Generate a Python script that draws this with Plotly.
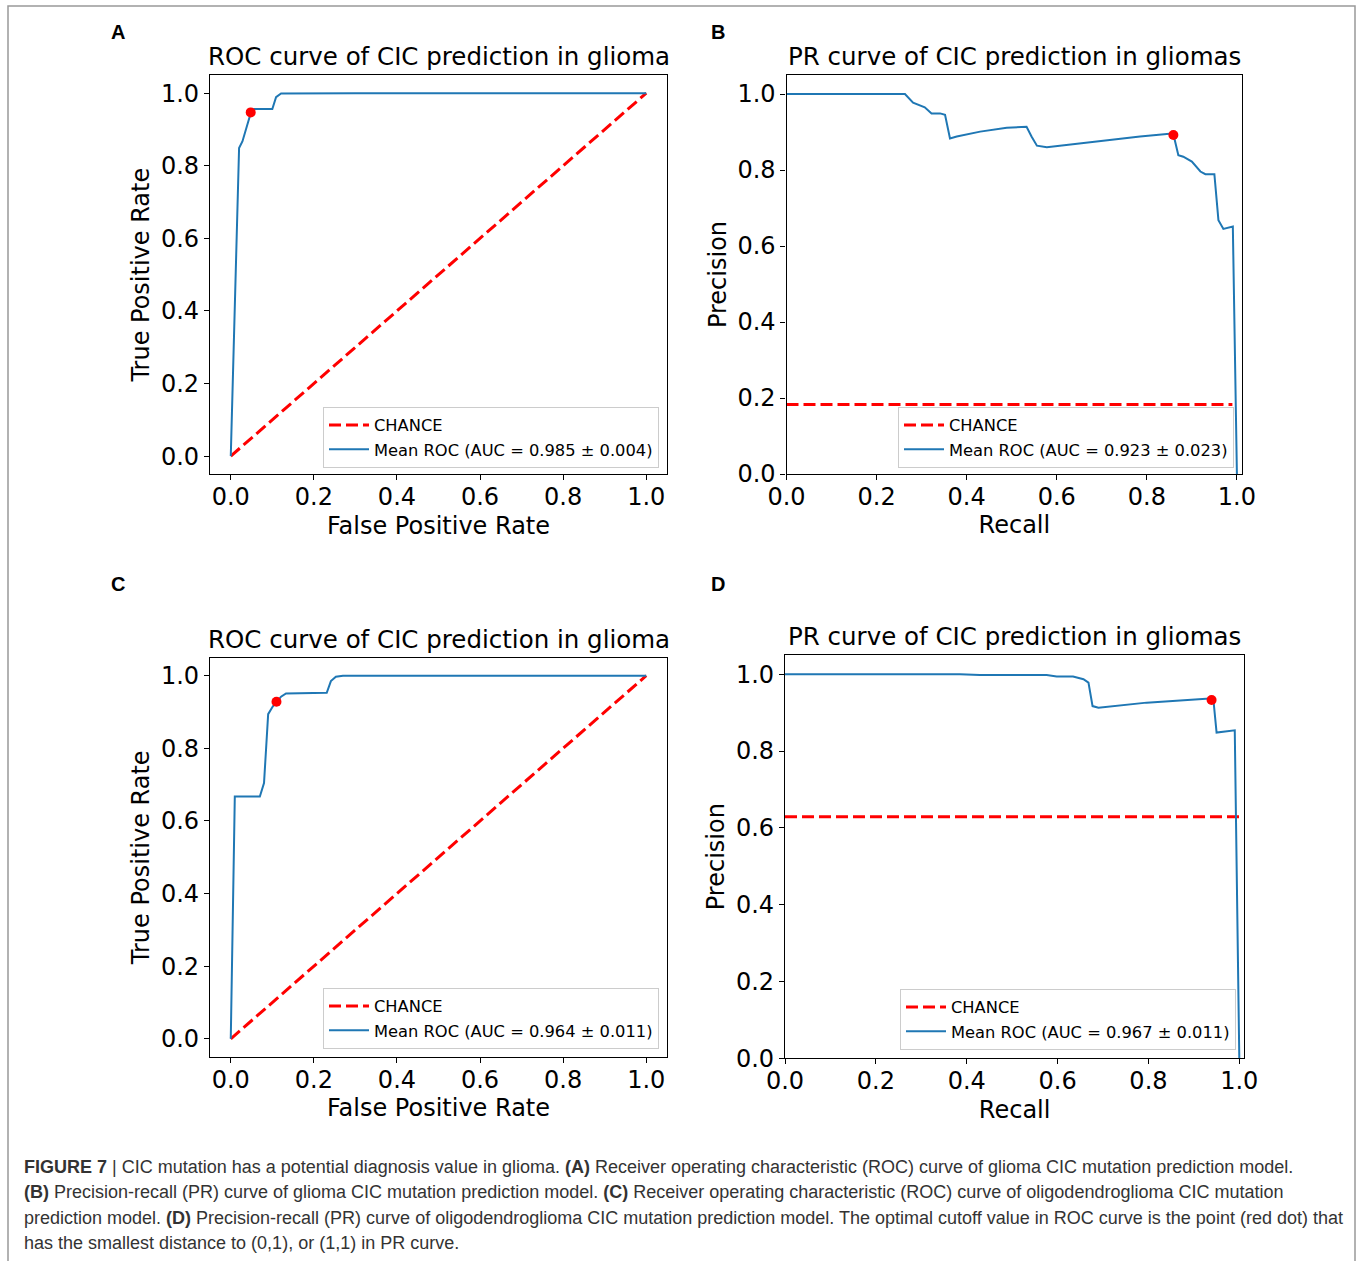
import plotly.graph_objects as go

# ---------------- data ----------------
# Panel A: ROC, glioma
roc_a_fpr = [0.0, 0.020, 0.028, 0.048, 0.056, 0.100, 0.109, 0.121, 0.30, 0.60, 1.0]
roc_a_tpr = [0.0, 0.849, 0.867, 0.945, 0.956, 0.956, 0.989, 0.999, 1.0, 1.0, 1.0]
roc_a_opt = (0.048, 0.947)
roc_a_label = "Mean ROC (AUC = 0.985 ± 0.004)"

# Panel B: PR, glioma
pr_b_recall = [0.0, 0.263, 0.281, 0.293, 0.307, 0.322, 0.341, 0.352, 0.363, 0.378, 0.430,
               0.489, 0.533, 0.544, 0.556, 0.578, 0.652, 0.741, 0.785, 0.856, 0.859,
               0.870, 0.881, 0.900, 0.919, 0.930, 0.950, 0.959, 0.970, 0.991, 1.0]
pr_b_precision = [1.0, 1.0, 0.977, 0.971, 0.965, 0.949, 0.949, 0.945, 0.883, 0.888, 0.901,
                  0.911, 0.914, 0.888, 0.864, 0.860, 0.870, 0.883, 0.888, 0.896, 0.894,
                  0.839, 0.835, 0.822, 0.796, 0.789, 0.789, 0.668, 0.645, 0.651, 0.0]
pr_b_opt = (0.859, 0.892)
pr_b_chance = 0.183
pr_b_label = "Mean ROC (AUC = 0.923 ± 0.023)"

# Panel C: ROC, oligodendroglioma
roc_c_fpr = [0.0, 0.0097, 0.070, 0.080, 0.090, 0.101, 0.121, 0.133, 0.231, 0.241, 0.253, 0.27, 1.0]
roc_c_tpr = [0.0, 0.667, 0.667, 0.704, 0.894, 0.915, 0.942, 0.951, 0.953, 0.985, 0.997, 1.0, 1.0]
roc_c_opt = (0.110, 0.928)
roc_c_label = "Mean ROC (AUC = 0.964 ± 0.011)"

# Panel D: PR, oligodendroglioma
pr_d_recall = [0.0, 0.385, 0.429, 0.576, 0.598, 0.634, 0.657, 0.668, 0.677, 0.690, 0.796,
               0.935, 0.943, 0.950, 0.990, 1.0]
pr_d_precision = [1.0, 1.0, 0.998, 0.998, 0.994, 0.994, 0.987, 0.978, 0.917, 0.913, 0.926,
                  0.937, 0.933, 0.848, 0.854, 0.0]
pr_d_opt = (0.939, 0.933)
pr_d_chance = 0.629
pr_d_label = "Mean ROC (AUC = 0.967 ± 0.011)"

roc_title = "ROC curve of CIC prediction in glioma"
pr_title = "PR curve of CIC prediction in gliomas"
tick_vals = [0.0, 0.2, 0.4, 0.6, 0.8, 1.0]

caption_lines = [
    "<b>FIGURE 7</b> | CIC mutation has a potential diagnosis value in glioma. <b>(A)</b> Receiver operating characteristic (ROC) curve of glioma CIC mutation prediction model.",
    "<b>(B)</b> Precision-recall (PR) curve of glioma CIC mutation prediction model. <b>(C)</b> Receiver operating characteristic (ROC) curve of oligodendroglioma CIC mutation",
    "prediction model. <b>(D)</b> Precision-recall (PR) curve of oligodendroglioma CIC mutation prediction model. The optimal cutoff value in ROC curve is the point (red dot) that",
    "has the smallest distance to (0,1), or (1,1) in PR curve.",
]

# ---------------- layout helpers ----------------
W, H = 1357, 1261
BLUE = "#1f77b4"
RED = "#ff0000"
FONT = "DejaVu Sans"

def px_x(a, b):
    return [a / W, b / W]

def px_y(top, bottom):
    return [1 - bottom / H, 1 - top / H]

panels = [
    dict(n=1, xd=(210, 667), yd=(75, 474.3), xr=[-0.05, 1.05], yr=[-0.05, 1.05],
         leg=(659, 468), title=roc_title, xl="False Positive Rate", yl="True Positive Rate", letter="A"),
    dict(n=2, xd=(786.5, 1242.3), yd=(75, 474), xr=[0, 1.012], yr=[0, 1.05],
         leg=(1234, 468), title=pr_title, xl="Recall", yl="Precision", letter="B"),
    dict(n=3, xd=(210, 667), yd=(657.5, 1057), xr=[-0.05, 1.05], yr=[-0.05, 1.05],
         leg=(659, 1049), title=roc_title, xl="False Positive Rate", yl="True Positive Rate", letter="C"),
    dict(n=4, xd=(785, 1244.3), yd=(655, 1058.3), xr=[0, 1.011], yr=[0, 1.05],
         leg=(1236, 1050), title=pr_title, xl="Recall", yl="Precision", letter="D"),
]

fig = go.Figure()

def add_panel(n, chance_x, chance_y, cx, cy, label, opt):
    xa = "x" if n == 1 else f"x{n}"
    ya = "y" if n == 1 else f"y{n}"
    lg = "legend" if n == 1 else f"legend{n}"
    fig.add_trace(go.Scatter(x=chance_x, y=chance_y, mode="lines", name="CHANCE",
                             line=dict(color=RED, width=3, dash="12px,5px"),
                             xaxis=xa, yaxis=ya, legend=lg, hoverinfo="skip"))
    fig.add_trace(go.Scatter(x=cx, y=cy, mode="lines", name=label,
                             line=dict(color=BLUE, width=2),
                             xaxis=xa, yaxis=ya, legend=lg))
    fig.add_trace(go.Scatter(x=[opt[0]], y=[opt[1]], mode="markers", showlegend=False,
                             marker=dict(color=RED, size=10),
                             xaxis=xa, yaxis=ya, legend=lg))

add_panel(1, [0, 1], [0, 1], roc_a_fpr, roc_a_tpr, roc_a_label, roc_a_opt)
add_panel(2, [0, 0.99], [pr_b_chance, pr_b_chance], pr_b_recall, pr_b_precision, pr_b_label, pr_b_opt)
add_panel(3, [0, 1], [0, 1], roc_c_fpr, roc_c_tpr, roc_c_label, roc_c_opt)
add_panel(4, [0, 1.0], [pr_d_chance, pr_d_chance], pr_d_recall, pr_d_precision, pr_d_label, pr_d_opt)

layout = dict(
    width=W, height=H, autosize=False,
    margin=dict(l=0, r=0, t=0, b=0, pad=0, autoexpand=False),
    paper_bgcolor="white", plot_bgcolor="white",
    font=dict(family=FONT, size=24, color="black"),
    annotations=[], shapes=[],
)

for p in panels:
    n = p["n"]
    xk = "xaxis" if n == 1 else f"xaxis{n}"
    yk = "yaxis" if n == 1 else f"yaxis{n}"
    xa = "x" if n == 1 else f"x{n}"
    ya = "y" if n == 1 else f"y{n}"
    common = dict(showgrid=False, zeroline=False, showline=True, linecolor="black", linewidth=1.2,
                  mirror=True, ticks="outside", ticklen=5, tickwidth=1.2, tickcolor="black",
                  tickvals=tick_vals, tickformat=".1f", automargin=False,
                  tickfont=dict(family=FONT, size=24, color="black"))
    layout[xk] = dict(common, domain=px_x(*p["xd"]), range=p["xr"], anchor=ya,
                      ticklabelstandoff=-4,
                      title=dict(text=p["xl"], font=dict(family=FONT, size=24), standoff=6))
    layout[yk] = dict(common, domain=px_y(*p["yd"]), range=p["yr"], anchor=xa,
                      title=dict(text=p["yl"], font=dict(family=FONT, size=24), standoff=4))
    lk = "legend" if n == 1 else f"legend{n}"
    layout[lk] = dict(x=p["leg"][0] / W, y=1 - p["leg"][1] / H, xanchor="right", yanchor="bottom",
                      xref="paper", yref="paper",
                      bgcolor="white", bordercolor="#cccccc", borderwidth=1,
                      font=dict(family=FONT, size=16.3, color="black"),
                      itemwidth=40, tracegroupgap=0)
    xc = (p["xd"][0] + p["xd"][1]) / 2 / W
    layout["annotations"].append(dict(text=p["title"], x=xc, y=1 - (p["yd"][0] - 2) / H,
                                      xref="paper", yref="paper", xanchor="center", yanchor="bottom",
                                      showarrow=False, font=dict(family=FONT, size=24.5, color="black")))
    lx = 118 if p["letter"] in "AC" else 718
    ly = 32 if p["letter"] in "AB" else 584
    layout["annotations"].append(dict(text="<b>" + p["letter"] + "</b>", x=lx / W, y=1 - ly / H,
                                      xref="paper", yref="paper", xanchor="center", yanchor="middle",
                                      showarrow=False,
                                      font=dict(family="Liberation Sans, Arial", size=20, color="black")))

for i, line in enumerate(caption_lines):
    layout["annotations"].append(dict(text=line, x=22 / W, y=1 - (1167 + 25.3 * i) / H,
                                      xref="paper", yref="paper", xanchor="left", yanchor="middle",
                                      showarrow=False, align="left",
                                      font=dict(family="Liberation Sans, Arial",
                                                size=18, color="#333333")))

layout["shapes"].append(dict(type="path", xref="paper", yref="paper",
                             path=f"M {8/W} 0 L {8/W} {1-6/H} L {1355/W} {1-6/H} L {1355/W} 0",
                             line=dict(color="#999999", width=1.5)))

fig.update_layout(**layout)
fig.write_html("out.html", config={"displayModeBar": False},
               post_script="document.body.style.margin='0';document.body.style.overflow='hidden';")
